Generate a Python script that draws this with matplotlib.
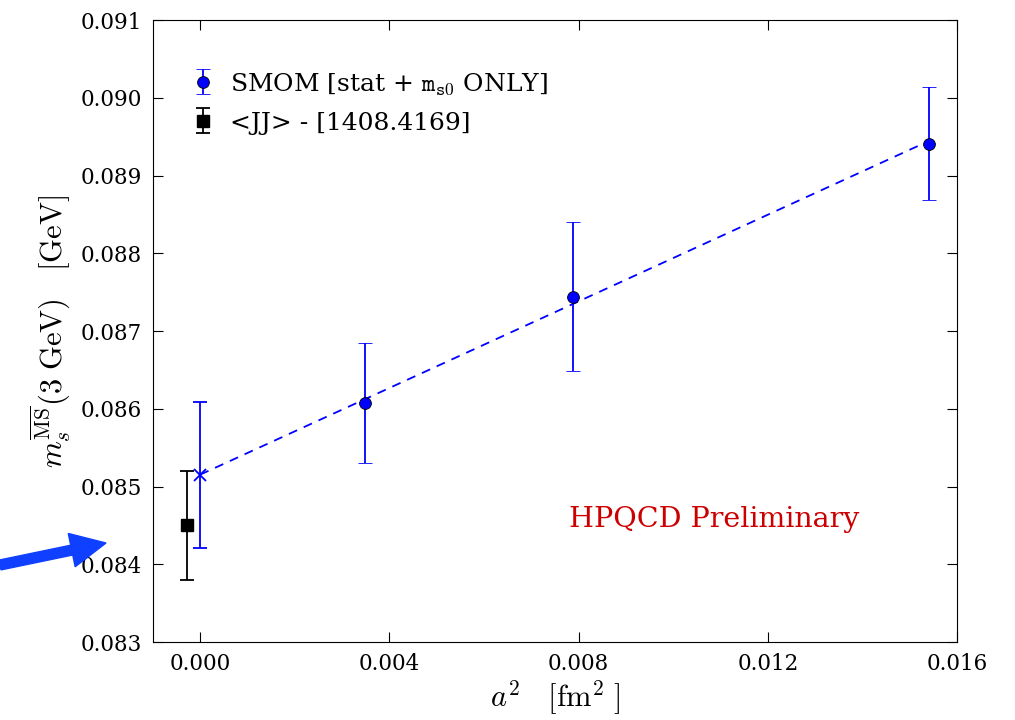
import numpy as np
import matplotlib
matplotlib.use("Agg")
import matplotlib.pyplot as plt
from matplotlib.patches import FancyArrow

# SMOM lattice points
a2_smom = [0.00349, 0.00787, 0.01541]
ms_smom = [0.08607, 0.08744, 0.08941]
err_smom = [0.00077, 0.00096, 0.00073]

# continuum extrapolation
a2_cont = [0.0]
ms_cont = [0.08515]
err_cont = [0.00094]

# <JJ> comparison point
a2_jj = [-0.00028]
ms_jj = [0.08450]
err_jj = [0.00070]

xticks = [0.000, 0.004, 0.008, 0.012, 0.016]
yticks = [0.083, 0.084, 0.085, 0.086, 0.087, 0.088, 0.089, 0.090, 0.091]

plt.rcParams["font.family"] = "DejaVu Serif"
plt.rcParams["mathtext.fontset"] = "cm"
plt.rcParams["xtick.direction"] = "in"
plt.rcParams["ytick.direction"] = "in"

fig = plt.figure(figsize=(10.15, 7.2), dpi=100)
ax = fig.add_axes([0.1507, 0.1083, 0.7922, 0.8639])

blue = "#0000ff"

# fit line from continuum point through the lattice points
fit = np.polyfit([a2_cont[0]] + a2_smom, [ms_cont[0]] + ms_smom, 1)
xl = np.array([a2_cont[0], a2_smom[-1]])
ax.plot(xl, np.polyval(fit, xl), "--", color=blue, lw=1.3, dashes=(5, 4))

ax.errorbar(a2_smom, ms_smom, yerr=err_smom, fmt="o", color=blue, mec="k",
            mew=0.6, ms=8.5, capsize=5, elinewidth=1.3, capthick=1.3,
            label=r"SMOM [stat + $\mathtt{m_{s0}}$ ONLY]")
ax.errorbar(a2_cont, ms_cont, yerr=err_cont, fmt="x", color=blue, ms=8,
            mew=1.3, capsize=5, elinewidth=1.3, capthick=1.3)
ax.errorbar(a2_jj, ms_jj, yerr=err_jj, fmt="s", color="k", ms=8,
            capsize=5, elinewidth=1.3, capthick=1.3,
            label="<JJ> - [1408.4169]")

ax.text(0.0078, 0.08448, "HPQCD Preliminary", color="#cc0000", fontsize=20.5)

ax.set_xlim(-0.001, 0.016)
ax.set_ylim(0.083, 0.091)
ax.set_xticks(xticks)
ax.set_yticks(yticks)
ax.set_xticklabels([f"{t:.3f}" for t in xticks])
ax.set_yticklabels([f"{t:.3f}" for t in yticks])
ax.tick_params(labelsize=15.5, top=True, right=True, length=7, pad=8)
ax.set_xlabel(r"$a^2\quad[\mathrm{fm}^2\ ]$", fontsize=22, labelpad=2)
ax.set_ylabel(r"$m_s^{\overline{\rm MS}}(3\ \mathrm{GeV})\quad[\mathrm{GeV}]$",
              fontsize=22, labelpad=6)

leg = ax.legend(loc="upper left", bbox_to_anchor=(0.034, 0.934), numpoints=1,
                frameon=False, fontsize=18, handletextpad=0.58,
                borderaxespad=0, handlelength=1.0, labelspacing=0.6)

# annotation arrow (drawn in figure inches so the head keeps its shape)
fig.add_artist(FancyArrow(0.0, 1.55, 1.06, 0.22, width=0.10,
                          head_width=0.34, head_length=0.35,
                          length_includes_head=True, color="#1040ff",
                          transform=fig.dpi_scale_trans))

fig.savefig("out.png", dpi=100)
